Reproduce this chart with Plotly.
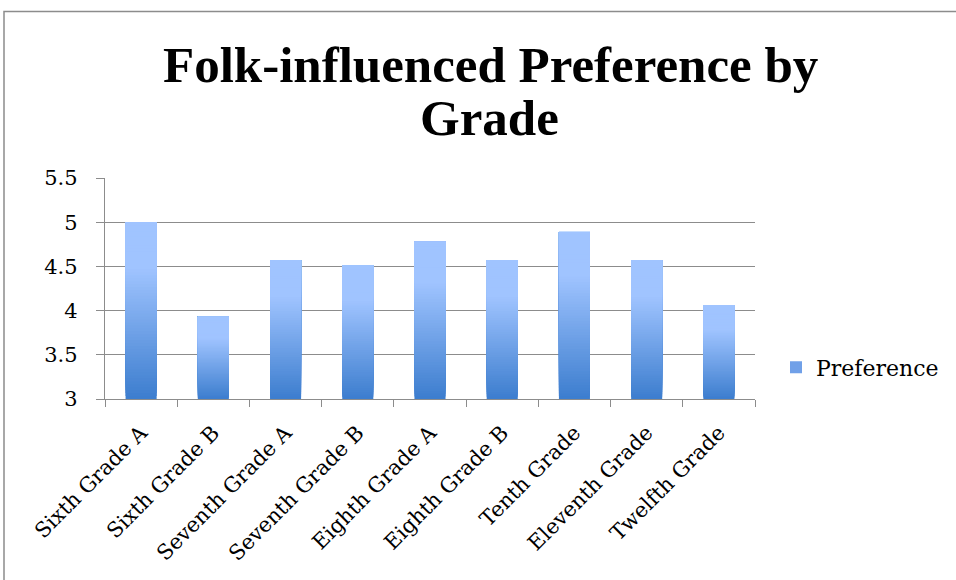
import plotly.graph_objects as go

categories = ["Sixth Grade A", "Sixth Grade B", "Seventh Grade A", "Seventh Grade B",
              "Eighth Grade A", "Eighth Grade B", "Tenth Grade", "Eleventh Grade", "Twelfth Grade"]
preference = [5.0, 3.93, 4.57, 4.51, 4.78, 4.57, 4.89, 4.57, 4.06]
y_ticks = [3, 3.5, 4, 4.5, 5, 5.5]
y_tick_labels = ["3", "3.5", "4", "4.5", "5", "5.5"]
title_lines = ["Folk-influenced Preference by", "Grade"]
series_name = "Preference"

axis_min = 3
n_seg = 60
dark = (60, 125, 206)
light = (160, 196, 255)

# plot area in pixels (figure coords)
PL, PR, PT, PB = 105, 755, 178, 399.5
W, H = 956, 580
pw, ph = PR - PL, PB - PT


def px_x(x):
    return (x - PL) / pw


def px_y(y):
    return (PB - y) / ph


fig = go.Figure()
for k in range(n_seg):
    t = (k + 0.5) / n_seg
    tt = min(1.0, t * 1.35)
    col = tuple(round(dark[i] + (light[i] - dark[i]) * tt) for i in range(3))
    base = [axis_min + (v - axis_min) * k / n_seg for v in preference]
    seg = [(v - axis_min) * (1 - k / n_seg) for v in preference]
    fig.add_trace(go.Bar(
        x=categories, y=seg, base=base,
        marker=dict(color="rgb(%d,%d,%d)" % col, line=dict(width=0)),
        showlegend=False, hoverinfo="skip",
    ))

fig.add_trace(go.Bar(
    x=[None], y=[None], name=series_name,
    marker=dict(color="rgb(112,160,232)", line=dict(width=0)),
    showlegend=True,
))

fig.update_layout(
    width=W, height=H,
    barmode="overlay", bargap=0.57,
    paper_bgcolor="white", plot_bgcolor="white",
    margin=dict(l=PL, r=W - PR, t=PT, b=H - PB),
    font=dict(family="DejaVu Serif", size=21, color="black"),
    showlegend=True,
    legend=dict(
        x=px_x(776), xanchor="left", y=px_y(368), yanchor="middle",
        font=dict(family="DejaVu Serif", size=22), bgcolor="rgba(0,0,0,0)",
    ),
    annotations=[
        dict(text="<b>%s</b>" % title_lines[0], xref="paper", yref="paper",
             x=px_x(490), y=px_y(65), xanchor="center", yanchor="middle",
             showarrow=False, font=dict(family="Liberation Serif", size=51, color="black")),
        dict(text="<b>%s</b>" % title_lines[1], xref="paper", yref="paper",
             x=px_x(489), y=px_y(118), xanchor="center", yanchor="middle",
             showarrow=False, font=dict(family="Liberation Serif", size=51, color="black")),
    ],
    shapes=[dict(type="rect", xref="paper", yref="paper",
                 x0=px_x(4), x1=px_x(1200), y0=px_y(900), y1=px_y(11),
                 line=dict(color="#8c8c8c", width=1.5), fillcolor="rgba(0,0,0,0)",
                 layer="below")],
)
fig.update_yaxes(
    range=[3, 5.5], tickvals=y_ticks, ticktext=y_tick_labels,
    showgrid=True, gridcolor="#8c8c8c", gridwidth=1.3,
    showline=True, linecolor="#8c8c8c", linewidth=1.3,
    ticks="outside", ticklen=8, tickcolor="#8c8c8c", tickwidth=1.3,
    zeroline=False, tickfont=dict(size=21), ticklabelstandoff=14,
)
fig.update_xaxes(
    tickangle=-45, showline=True, linecolor="#8c8c8c", linewidth=1.3,
    ticks="outside", ticklen=7, tickcolor="#8c8c8c", tickwidth=1.3,
    tickson="boundaries", tickfont=dict(size=21), ticklabelstandoff=12,
)
fig.write_html("out.html", config={"displayModeBar": False},
               post_script="document.body.style.margin='0';")
